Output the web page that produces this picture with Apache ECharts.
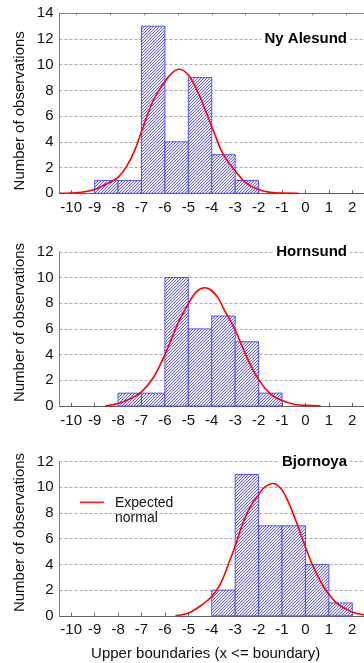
<!DOCTYPE html>
<html><head><meta charset="utf-8">
<script src="https://cdn.jsdelivr.net/npm/echarts@6/dist/echarts.min.js"></script>
<style>html,body{margin:0;padding:0;background:#fff}#c{width:364px;height:663px}</style>
</head><body><div id="c"></div>
<script>
// ---- data ----
const xTicks = [-10,-9,-8,-7,-6,-5,-4,-3,-2,-1,0,1,2];
const topTicks = [-9.8,-8.35,-6.9,-5.45,-4.0,-2.57,-1.13,0.3,1.74];
const panelTitles = ['Ny Alesund','Hornsund','Bjornoya'];
const yMax = [14,12,12];

const nyUpper  = [-8,-7,-6,-5,-4,-3,-2];
const nyCounts = [1,1,13,4,9,3,1];
const hoUpper  = [-7,-6,-5,-4,-3,-2,-1];
const hoCounts = [1,1,10,6,7,5,1];
const bjUpper  = [-3,-2,-1,0,1,2];
const bjCounts = [2,11,7,7,4,1];

const nyCurveX = [-10.5,-10,-9.5,-9,-8.5,-8,-7.6,-7.3,-7,-6.5,-6,-5.7,-5.4,-5,-4.6,-4,-3.5,-3,-2.5,-2,-1.5,-1,-0.3];
const nyCurveY = [0,0.02,0.1,0.3,0.72,1.24,2.2,3.3,4.8,7.2,8.7,9.35,9.65,9.2,7.9,5.2,3.0,1.75,0.75,0.3,0.07,0.01,0];
const hoCurveX = [-8.55,-8,-7.5,-7,-6.5,-6,-5.7,-5.4,-5,-4.65,-4.3,-3.8,-3.5,-3,-2.5,-2,-1.5,-1,-0.5,0,0.65];
const hoCurveY = [0,0.2,0.55,1.1,2.2,4.0,5.3,6.6,7.95,8.9,9.2,8.6,7.6,5.9,3.8,2.05,0.95,0.42,0.14,0.05,0];
const bjCurveX = [-5.55,-5.05,-4.64,-4,-3.6,-3.25,-2.97,-2.62,-2.27,-1.97,-1.75,-1.4,-1.05,-0.74,-0.39,-0.05,0.3,0.65,0.97,1.35,1.7,2.05,2.5];
const bjCurveY = [0,0.18,0.57,1.5,2.6,4.2,5.6,7.45,8.75,9.5,10.0,10.3,9.9,8.9,7.3,5.6,3.95,2.65,1.74,0.96,0.57,0.25,0.08];

const legendText = 'Expected\nnormal';
const xAxisTitle = 'Upper boundaries (x <= boundary)';
const yAxisTitle = 'Number of observations';

// ---- chart ----
const FONT = '"Liberation Sans", Arial, sans-serif';
const pc = document.createElement('canvas'); pc.width = 3; pc.height = 3;
const g = pc.getContext('2d');
g.fillStyle = '#eeeeff'; g.fillRect(0,0,3,3);
g.fillStyle = '#6262ff';
for (let i = 0; i < 3; i++) g.fillRect(i, 2 - i, 1, 1);
const hatch = {type:'pattern', image: pc, repeat: 'repeat'};

const grids = [
  {left: 59.5, right: -6, top: 13.3, height: 180},
  {left: 59.5, right: -6, top: 251.8, height: 154.2},
  {left: 59.5, right: -6, top: 461.6, height: 154.2}
];

const xAxes = [], yAxes = [], series = [];
grids.forEach((gr, i) => {
  xAxes.push({
    type: 'value', gridIndex: i, min: -10.5, max: 2.5,
    axisLine: {show: true, onZero: false, lineStyle: {color: '#606060', width: 1}},
    axisTick: {show: true, inside: true, length: 3, customValues: xTicks, lineStyle: {color: '#606060'}},
    axisLabel: {customValues: xTicks, fontSize: 15, color: '#111', fontFamily: FONT, margin: 7},
    splitLine: {show: false}
  });
  yAxes.push({
    type: 'value', gridIndex: i, min: 0, max: yMax[i], interval: 2,
    axisLine: {show: true, onZero: false, lineStyle: {color: '#808080'}},
    axisTick: {show: false},
    axisLabel: {fontSize: 15, color: '#111', fontFamily: FONT, margin: 6},
    splitLine: {show: true, lineStyle: {color: '#aaaaaa', type: [3, 2], width: 1}}
  });
});
// top frame of first panel
xAxes.push({
  type: 'value', gridIndex: 0, position: 'top', min: -10.5, max: 2.5,
  axisLine: {show: true, onZero: false, lineStyle: {color: '#808080'}},
  axisTick: {show: true, inside: true, length: 2, customValues: topTicks, lineStyle: {color: '#808080'}},
  axisLabel: {show: false}, splitLine: {show: false}
});

function binData(upper, counts) {
  return upper.map((u, k) => [u - 1, u, counts[k]]);
}
function renderBar(params, api) {
  const lo = api.value(0), hi = api.value(1), v = api.value(2);
  const p0 = api.coord([lo, v]);
  const p1 = api.coord([hi, 0]);
  return {
    type: 'rect',
    shape: {x: p0[0], y: p0[1], width: p1[0] - p0[0], height: p1[1] - p0[1]},
    style: {fill: hatch, stroke: '#5050ff', lineWidth: 1}
  };
}
const bins = [binData(nyUpper, nyCounts), binData(hoUpper, hoCounts), binData(bjUpper, bjCounts)];
const curves = [[nyCurveX, nyCurveY], [hoCurveX, hoCurveY], [bjCurveX, bjCurveY]];
for (let i = 0; i < 3; i++) {
  series.push({
    type: 'custom', xAxisIndex: i, yAxisIndex: i, renderItem: renderBar,
    encode: {x: [0, 1], y: 2}, data: bins[i], z: 2, silent: true
  });
  series.push({
    type: 'line', name: 'Expected normal', xAxisIndex: i, yAxisIndex: i,
    data: curves[i][0].map((x, k) => [x, curves[i][1][k]]),
    smooth: 0.4, showSymbol: false, symbol: 'none', z: 3,
    lineStyle: {color: '#ff0000', width: 1.6}, silent: true
  });
}

const titleY = [39, 252, 461.5];
const nameY = [110.8, 322.5, 532.5];
const graphic = [];
for (let i = 0; i < 3; i++) {
  graphic.push({
    type: 'text', x: 350, y: titleY[i], z: 100,
    style: {text: panelTitles[i], font: 'bold 15px ' + FONT, fill: '#000', align: 'right',
      verticalAlign: 'middle', backgroundColor: '#fff', padding: [1, 3]}
  });
  graphic.push({
    type: 'text', x: 20, y: nameY[i], rotation: Math.PI / 2, z: 100,
    style: {text: yAxisTitle, font: '15px ' + FONT, fill: '#111', align: 'center', verticalAlign: 'middle'}
  });
}
graphic.push({
  type: 'text', x: 205.7, y: 654, z: 100,
  style: {text: xAxisTitle, font: '15px ' + FONT, fill: '#111', align: 'center', verticalAlign: 'middle'}
});
graphic.push({
  type: 'line', z: 100, shape: {x1: 80, y1: 502.3, x2: 104, y2: 502.3},
  style: {stroke: '#ff2020', lineWidth: 1.6}
});
graphic.push({
  type: 'text', x: 115, y: 496, z: 100,
  style: {text: legendText, font: '14px ' + FONT, fill: '#111', align: 'left', verticalAlign: 'top', lineHeight: 15}
});

const chart = echarts.init(document.getElementById('c'), null, {renderer: 'canvas'});
chart.setOption({
  animation: false,
  backgroundColor: '#fff',
  grid: grids,
  xAxis: xAxes,
  yAxis: yAxes,
  series: series,
  graphic: graphic
});
</script>
</body></html>
